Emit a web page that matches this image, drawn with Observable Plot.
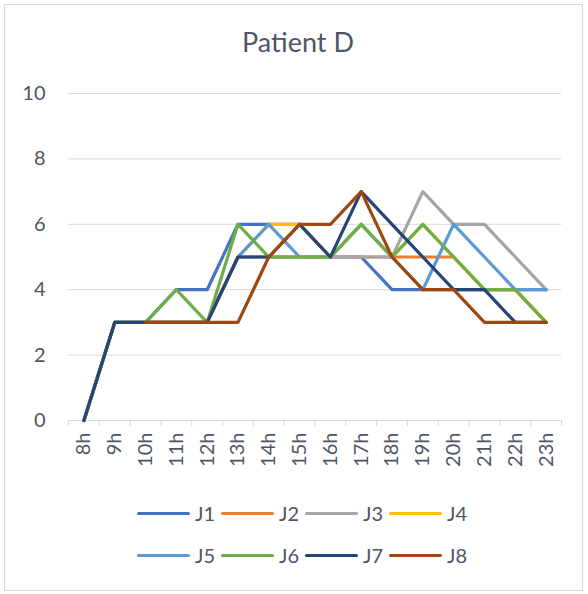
<!DOCTYPE html>
<html>
<head>
<meta charset="utf-8">
<script src="https://cdn.jsdelivr.net/npm/d3@7"></script>
<script src="https://cdn.jsdelivr.net/npm/@observablehq/plot@0.6"></script>
<style>
  html, body { margin: 0; padding: 0; background: #fff; }
  #wrap { position: relative; width: 588px; height: 594px; font-family: Lato, "Open Sans", sans-serif; color: #4d5666; }
  #frame { position: absolute; left: 4px; top: 4px; width: 579px; height: 587px; border: 1px solid #d9d9d9; box-sizing: border-box; }
  #title { position: absolute; left: 0; width: 596px; top: 27px; text-align: center; font-size: 27px; line-height: 30px; }
  #chart { position: absolute; left: 0; top: 0; }
  #legend { position: absolute; left: 137px; top: 499px; display: grid; grid-template-columns: repeat(4, 84px); row-gap: 14px; font-size: 20px; }
  .item { display: flex; align-items: center; height: 28px; }
  .sw { width: 53px; height: 3px; border-radius: 2px; margin-right: 5px; }
</style>
</head>
<body>
<div id="wrap">
  <div id="frame"></div>
  <div id="chart"></div>
  <div id="title">Patient D</div>
  <div id="legend"></div>
</div>
<script>
const hours = ["8h","9h","10h","11h","12h","13h","14h","15h","16h","17h","18h","19h","20h","21h","22h","23h"];
const seriesNames = ["J1","J2","J3","J4","J5","J6","J7","J8"];
const J1 = [0,3,3,4,4,6,6,6,5,5,4,4,4,4,4,4];
const J2 = [0,3,3,3,3,5,5,5,5,5,5,5,5,4,4,3];
const J3 = [0,3,3,3,3,5,5,5,5,5,5,7,6,6,5,4];
const J4 = [0,3,3,3,3,5,6,6,5,6,5,6,5,4,4,3];
const J5 = [0,3,3,3,3,5,6,5,5,6,5,4,6,5,4,4];
const J6 = [0,3,3,4,3,6,5,5,5,6,5,6,5,4,4,3];
const J7 = [0,3,3,3,3,5,5,6,5,7,6,5,4,4,3,3];
const J8 = [null,null,3,3,3,3,5,6,6,7,5,4,4,3,3,3];
const colors = ["#4472C4","#ED7D31","#A5A5A5","#FFC000","#5B9BD5","#70AD47","#264478","#9E480E"];
const yTicks = [0,2,4,6,8,10];

const values = [J1,J2,J3,J4,J5,J6,J7,J8];
const rows = [];
seriesNames.forEach((s, k) => values[k].forEach((v, i) => { if (v != null) rows.push({series: s, i, v}); }));

const textColor = "#4d5666";
const lineMarks = seriesNames.map(s =>
  Plot.line(rows.filter(r => r.series === s), {
    x: "i", y: "v", stroke: "series", strokeWidth: 3.2,
    strokeLinejoin: "round", strokeLinecap: "round"
  })
);

const chart = Plot.plot({
  width: 588,
  height: 480,
  marginTop: 93,
  marginBottom: 60,
  marginLeft: 68,
  marginRight: 27,
  style: { fontFamily: "Lato, 'Open Sans', sans-serif", fontSize: "20px", color: textColor, background: "transparent" },
  x: { type: "linear", domain: [-0.5, hours.length - 0.5] },
  y: { domain: [0, 10] },
  color: { domain: seriesNames, range: colors },
  marks: [
    Plot.gridY(yTicks, { stroke: "#d9d9d9", strokeOpacity: 1, strokeWidth: 1 }),
    Plot.ruleY([0], { stroke: "#d9d9d9", strokeWidth: 1 }),
    Plot.axisY({ ticks: yTicks, tickSize: 0, tickPadding: 23, label: null, fill: textColor }),
    Plot.axisX({ ticks: d3.range(hours.length + 1).map(k => k - 0.5), tickFormat: () => "", tickSize: 6, stroke: "#d9d9d9", label: null }),
    Plot.axisX({ ticks: d3.range(hours.length), tickFormat: i => hours[i], tickSize: 0, tickPadding: 12, tickRotate: -90, label: null, fill: textColor }),
    ...lineMarks
  ]
});
document.getElementById("chart").appendChild(chart);

const legend = document.getElementById("legend");
seriesNames.forEach((s, k) => {
  const it = document.createElement("div");
  it.className = "item";
  const sw = document.createElement("span");
  sw.className = "sw";
  sw.style.background = colors[k];
  const lb = document.createElement("span");
  lb.textContent = s;
  it.appendChild(sw); it.appendChild(lb);
  legend.appendChild(it);
});
</script>
</body>
</html>
